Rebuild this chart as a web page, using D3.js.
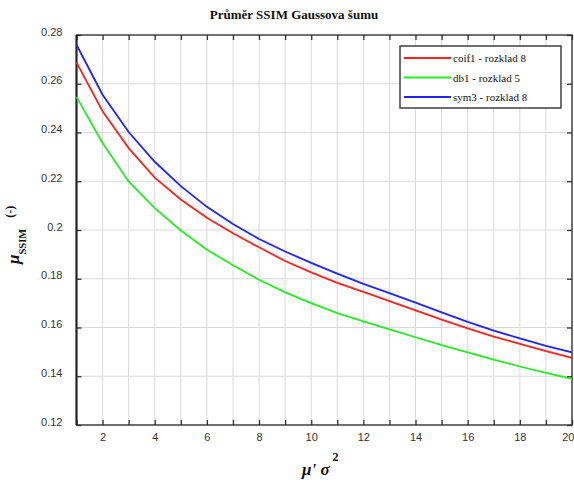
<!DOCTYPE html>
<html>
<head>
<meta charset="utf-8">
<script src="https://cdn.jsdelivr.net/npm/d3@7"></script>
<style>
  html, body { margin: 0; padding: 0; background: #fff; }
  svg { display: block; }
</style>
</head>
<body>
<svg id="chart" width="574" height="482"></svg>
<script>
const xValues = [1, 2, 3, 4, 5, 6, 7, 8, 9, 10, 11, 12, 13, 14, 15, 16, 17, 18, 19, 20];
const coif1 = [0.2688, 0.2487, 0.2336, 0.2215, 0.2125, 0.2050, 0.1987, 0.1929, 0.1873, 0.1826, 0.1783, 0.1746, 0.1708, 0.1670, 0.1632, 0.1596, 0.1563, 0.1533, 0.1503, 0.1475];
const db1 = [0.2546, 0.2357, 0.2199, 0.2090, 0.1998, 0.1919, 0.1855, 0.1796, 0.1744, 0.1700, 0.1659, 0.1625, 0.1592, 0.1560, 0.1528, 0.1498, 0.1468, 0.1440, 0.1414, 0.1389];
const sym3 = [0.2760, 0.2555, 0.2402, 0.2280, 0.2180, 0.2095, 0.2025, 0.1963, 0.1912, 0.1865, 0.1821, 0.1779, 0.1741, 0.1702, 0.1662, 0.1623, 0.1587, 0.1555, 0.1525, 0.1498];
const seriesNames = ["coif1 - rozklad 8", "db1 - rozklad 5", "sym3 - rozklad 8"];
const seriesColors = ["#ff2020", "#22ee22", "#2222ff"];
const yTicks = [0.12, 0.14, 0.16, 0.18, 0.2, 0.22, 0.24, 0.26, 0.28];
const xLabelTicks = [2, 4, 6, 8, 10, 12, 14, 16, 18, 20];

const svg = d3.select("#chart");
const plotLeft = 76.5, plotRight = 572, plotTop = 35, plotBottom = 425;

const x = d3.scaleLinear().domain([1, 20]).range([plotLeft, plotRight]);
const y = d3.scaleLinear().domain([0.12, 0.28]).range([plotBottom, plotTop]);

svg.append("rect").attr("width", 574).attr("height", 482).attr("fill", "#fff");

// grid
const grid = svg.append("g").attr("stroke", "#d9d9d9").attr("stroke-width", 1);
grid.selectAll(".gx").data(xValues.slice(1, -1)).enter().append("line")
  .attr("x1", (d) => x(d)).attr("x2", (d) => x(d))
  .attr("y1", plotTop).attr("y2", plotBottom);
grid.selectAll(".gy").data(yTicks.slice(1, -1)).enter().append("line")
  .attr("x1", plotLeft).attr("x2", plotRight)
  .attr("y1", (d) => y(d)).attr("y2", (d) => y(d));

// axes
const tickFont = (g) => {
  g.select(".domain").remove();
  g.selectAll("line").attr("stroke", "#333").attr("stroke-width", 1.3);
  g.selectAll("text")
    .attr("font-family", "Liberation Sans, Arial, sans-serif")
    .attr("font-size", 11)
    .attr("fill", "#333");
};

const xAxisG = svg.append("g")
  .attr("transform", `translate(0, ${plotBottom})`)
  .call(d3.axisBottom(x).tickValues(xValues).tickSize(-5).tickPadding(8.5)
    .tickFormat((d) => (xLabelTicks.includes(d) ? d : "")))
  .call(tickFont);
// last label sits on the window edge; keep it inside
xAxisG.selectAll("text").filter((d) => d === 20).attr("text-anchor", "end").attr("dx", 2);

svg.append("g")
  .attr("transform", `translate(0, ${plotTop})`)
  .call(d3.axisTop(x).tickValues(xValues).tickSize(-5).tickFormat(""))
  .call(tickFont);

svg.append("g")
  .attr("transform", `translate(${plotLeft}, 0)`)
  .call(d3.axisLeft(y).tickValues(yTicks).tickSize(-5).tickPadding(14)
    .tickFormat((d) => String(+d.toFixed(2))))
  .call(tickFont)
  .selectAll("text").attr("dy", "0");

svg.append("g")
  .attr("transform", `translate(${plotRight}, 0)`)
  .call(d3.axisRight(y).tickValues(yTicks).tickSize(-5).tickFormat(""))
  .call(tickFont);

// frame
svg.append("rect")
  .attr("x", plotLeft).attr("y", plotTop)
  .attr("width", plotRight - plotLeft).attr("height", plotBottom - plotTop)
  .attr("fill", "none").attr("stroke", "#333").attr("stroke-width", 1.4);
svg.append("line")
  .attr("x1", plotLeft).attr("x2", plotLeft).attr("y1", plotTop).attr("y2", plotBottom)
  .attr("stroke", "#222").attr("stroke-width", 2);

// lines
const line = d3.line().x((d) => x(d[0])).y((d) => y(d[1]));
[coif1, db1, sym3].forEach((vals, i) => {
  svg.append("path")
    .datum(xValues.map((xv, j) => [xv, vals[j]]))
    .attr("fill", "none")
    .attr("stroke", seriesColors[i])
    .attr("stroke-width", 1.8)
    .attr("d", line);
});

// legend
const legend = svg.append("g");
legend.append("rect")
  .attr("x", 400).attr("y", 46).attr("width", 161).attr("height", 62)
  .attr("fill", "#fff").attr("stroke", "#333").attr("stroke-width", 1.4);
seriesNames.forEach((name, i) => {
  const ly = 58 + i * 19.5;
  legend.append("line")
    .attr("x1", 404).attr("x2", 451).attr("y1", ly).attr("y2", ly)
    .attr("stroke", seriesColors[i]).attr("stroke-width", 1.8);
  legend.append("text")
    .attr("x", 453).attr("y", ly + 4)
    .attr("font-family", "Liberation Serif, Times New Roman, serif")
    .attr("font-size", 11)
    .attr("fill", "#111")
    .text(name);
});

// title
svg.append("text")
  .attr("x", 294).attr("y", 19)
  .attr("text-anchor", "middle")
  .attr("font-family", "Liberation Serif, Times New Roman, serif")
  .attr("font-size", 13)
  .attr("font-weight", "bold")
  .attr("fill", "#111")
  .text("Průměr SSIM Gaussova šumu");

// x label
const xl = svg.append("text")
  .attr("x", 302).attr("y", 475)
  .attr("font-family", "Liberation Serif, Times New Roman, serif")
  .attr("font-weight", "bold")
  .attr("fill", "#111");
xl.append("tspan").attr("font-size", 17).attr("font-style", "italic").text("μ' σ");
xl.append("tspan").attr("font-size", 12).attr("dx", 3).attr("dy", -14).text("2");

// y label
const yl = svg.append("text")
  .attr("transform", "translate(19, 264) rotate(-90)")
  .attr("font-family", "Liberation Serif, Times New Roman, serif")
  .attr("font-weight", "bold")
  .attr("fill", "#111");
yl.append("tspan").attr("font-size", 17).attr("font-style", "italic").text("μ");
yl.append("tspan").attr("font-size", 10.5).attr("dy", 7).text("SSIM");
yl.append("tspan").attr("font-size", 12).attr("dx", 11).attr("dy", -12).text("(-)");
</script>
</body>
</html>
